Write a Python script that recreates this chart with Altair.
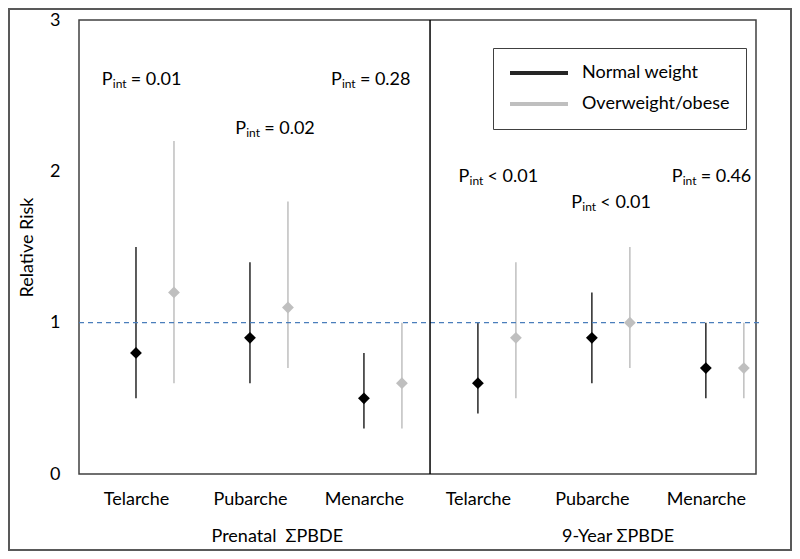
import json
import altair as alt
import pandas as pd

# ---------------- data ----------------
outcomes = ["Telarche", "Pubarche", "Menarche", "Telarche", "Pubarche", "Menarche"]
exposures = ["Prenatal\u00a0\u00a0ΣPBDE", "9-Year ΣPBDE"]
groups = ["Normal weight", "Overweight/obese"]

normal_rr = [0.8, 0.9, 0.5, 0.6, 0.9, 0.7]
normal_lo = [0.5, 0.6, 0.3, 0.4, 0.6, 0.5]
normal_hi = [1.5, 1.4, 0.8, 1.0, 1.2, 1.0]

over_rr = [1.2, 1.1, 0.6, 0.9, 1.0, 0.7]
over_lo = [0.6, 0.7, 0.3, 0.5, 0.7, 0.5]
over_hi = [2.2, 1.8, 1.0, 1.4, 1.5, 1.0]

# interaction p-values (text) and where they sit (data units)
pint_text = ["= 0.01", "= 0.02", "= 0.28", "< 0.01", "< 0.01", "= 0.46"]
pint_x = [0.70, 1.87, 2.71, 3.83, 4.82, 5.70]
pint_y = [2.57, 2.25, 2.57, 1.93, 1.76, 1.93]

exposure_x = [2.24, 5.23]
divider_x = [3.58]
ref_y = [1.0]

y_ticks = [0, 1, 2, 3]
x_ticks = [1, 2, 3, 4, 5, 6]

FONT = "Lato"
FS = 18
BLACK = "#262626"
GREY = "#bfbfbf"

# ---------------- tables ----------------
rows = []
for i in range(6):
    rows.append({"pos": i + 1, "group": groups[0], "rr": normal_rr[i],
                 "lo": normal_lo[i], "hi": normal_hi[i]})
    rows.append({"pos": i + 1 + 1 / 3, "group": groups[1], "rr": over_rr[i],
                 "lo": over_lo[i], "hi": over_hi[i]})
df = pd.DataFrame(rows)

ann = pd.DataFrame({"pos": pint_x, "rr": pint_y, "txt": pint_text})
expo = pd.DataFrame({"pos": exposure_x, "name": exposures})
div = pd.DataFrame({"pos": divider_x, "lo": [0], "hi": [3]})
ref = pd.DataFrame({"rr": ref_y})
one = pd.DataFrame({"a": [0]})

xscale = alt.Scale(domain=[0.5, 6.44], nice=False, zero=False)
yscale = alt.Scale(domain=[0, 3], nice=False, zero=True)

label_expr = json.dumps(outcomes) + "[datum.value - 1]"

X = alt.X("pos:Q", scale=xscale,
          axis=alt.Axis(values=x_ticks, labelExpr=label_expr, ticks=False,
                        domain=False, grid=False, title=None, labelPadding=16,
                        labelFont=FONT, labelFontSize=FS, labelColor="#000"))
Y = alt.Y("lo:Q", scale=yscale,
          axis=alt.Axis(values=y_ticks, format="d", ticks=False, domain=False, grid=False,
                        title="Relative Risk", labelPadding=19,
                        labelFont=FONT, labelFontSize=FS, labelColor="#000",
                        titleFont=FONT, titleFontSize=FS, titleFontWeight="normal",
                        titleColor="#000", titleX=-52, titleY=227,
                        titleAngle=270, titleAlign="center", titleBaseline="middle"))

color = alt.Color("group:N", scale=alt.Scale(domain=groups, range=[BLACK, GREY]),
                  legend=alt.Legend(title=None, orient="none", legendX=414, legendY=28,
                                    strokeColor="#404040", padding=16,
                                    symbolType="M-4,0H25", symbolSize=16,
                                    symbolStrokeWidth=4, labelOffset=55,
                                    labelFont=FONT, labelFontSize=FS, labelColor="#000",
                                    rowPadding=13))

bars = alt.Chart(df).mark_rule(strokeWidth=1.5).encode(
    x=X, y=Y, y2="hi:Q", color=color)

points = alt.Chart(df).mark_point(shape="diamond", filled=True, size=140, opacity=1).encode(
    x=alt.X("pos:Q", scale=xscale),
    y=alt.Y("rr:Q", scale=yscale),
    fill=alt.Fill("group:N", scale=alt.Scale(domain=groups, range=["#000000", GREY]),
                  legend=None))

refline = alt.Chart(ref).mark_rule(color="#4a7ebb", strokeDash=[5, 4], strokeWidth=1.2).encode(
    y=alt.Y("rr:Q", scale=yscale), x=alt.value(0), x2=alt.value(684))

divider = alt.Chart(div).mark_rule(color="#000", strokeWidth=1.5).encode(
    x=alt.X("pos:Q", scale=xscale), y=alt.Y("lo:Q", scale=yscale), y2="hi:Q")

p_mark = alt.Chart(ann).mark_text(text="P", align="left", baseline="alphabetic",
                                  font=FONT, fontSize=FS, color="#000").encode(
    x=alt.X("pos:Q", scale=xscale), y=alt.Y("rr:Q", scale=yscale))
int_mark = alt.Chart(ann).mark_text(text="int", align="left", baseline="alphabetic",
                                    dx=11, dy=3, font=FONT, fontSize=12, color="#000").encode(
    x=alt.X("pos:Q", scale=xscale), y=alt.Y("rr:Q", scale=yscale))
rest_mark = alt.Chart(ann).mark_text(align="left", baseline="alphabetic", dx=29,
                                     font=FONT, fontSize=FS, color="#000").encode(
    x=alt.X("pos:Q", scale=xscale), y=alt.Y("rr:Q", scale=yscale), text="txt:N")

expo_mark = alt.Chart(expo).mark_text(align="center", baseline="middle",
                                      font=FONT, fontSize=FS, color="#000").encode(
    x=alt.X("pos:Q", scale=xscale), y=alt.value(517), text="name:N")

frame = alt.Chart(one).mark_rect(fill=None, stroke="#595959", strokeWidth=2).encode(
    x=alt.value(-70), x2=alt.value(712), y=alt.value(-11), y2=alt.value(530))

chart = alt.layer(
    bars, refline, divider, points, p_mark, int_mark, rest_mark, expo_mark, frame
).resolve_scale(color="independent", fill="independent").properties(
    width=677, height=454,
    autosize=alt.AutoSizeParams(type="none"),
    padding={"left": 71, "top": 12, "right": 36, "bottom": 77},
    background="white",
).configure_view(stroke="#404040", strokeWidth=1.5)

chart.save("out.html", embed_options={"renderer": "svg", "actions": False})
